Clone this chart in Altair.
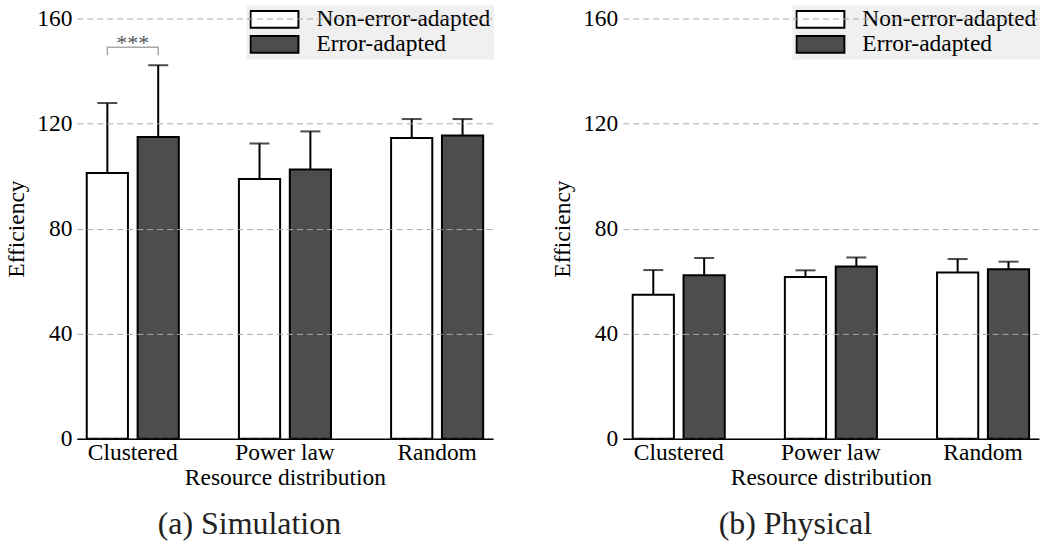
import altair as alt
import pandas as pd

categories = ["Clustered", "Power law", "Random"]
groups = ["Non-error-adapted", "Error-adapted"]

sim_non_mean = [101.2, 98.9, 114.5]
sim_non_sd = [26.6, 13.5, 7.2]
sim_err_mean = [114.9, 102.5, 115.4]
sim_err_sd = [27.3, 14.5, 6.3]

phys_non_mean = [54.8, 61.6, 63.3]
phys_non_sd = [9.4, 2.5, 5.1]
phys_err_mean = [62.2, 65.6, 64.5]
phys_err_sd = [6.6, 3.4, 2.9]

y_ticks = [0, 40, 80, 120, 160]

# significance bracket between the two Clustered bars (simulation)
sig_cat = "Clustered"
sig_label = "***"
sig_top = 149
sig_foot = 146
sig_text_y = 148

FONT = "Times New Roman, Liberation Serif, Times, serif"
FS = 23.5


def make_df(non_m, non_s, err_m, err_s):
    rows = []
    for i, c in enumerate(categories):
        rows.append({"cat": c, "grp": groups[0], "mean": non_m[i], "upper": non_m[i] + non_s[i]})
        rows.append({"cat": c, "grp": groups[1], "mean": err_m[i], "upper": err_m[i] + err_s[i]})
    return pd.DataFrame(rows)


def panel(df, caption, sig=False):
    base = alt.Chart(df)
    x = alt.X(
        "cat:N",
        sort=categories,
        scale=alt.Scale(paddingInner=0.395, paddingOuter=0.065),
        axis=alt.Axis(
            title="Resource distribution",
            labelAngle=0,
            ticks=False,
            grid=False,
            domainColor="black",
            domainWidth=1.5,
            labelFont=FONT,
            labelFontSize=FS,
            labelColor="black",
            labelPadding=2,
            titleFont=FONT,
            titleFontSize=FS,
            titleFontWeight="normal",
            titleColor="black",
            titlePadding=1,
            zindex=2,
        ),
    )
    xo = alt.XOffset("grp:N", sort=groups, scale=alt.Scale(domain=groups, paddingInner=0.19, paddingOuter=0))
    y = alt.Y(
        "mean:Q",
        scale=alt.Scale(domain=[0, 160], nice=False),
        axis=alt.Axis(
            values=y_ticks,
            title="Efficiency",
            grid=True,
            gridDash=[6, 4],
            gridColor="#aaaaaa",
            gridWidth=1,
            domain=False,
            ticks=False,
            labelFont=FONT,
            labelFontSize=FS,
            labelColor="black",
            labelPadding=5,
            titleFont=FONT,
            titleFontSize=FS,
            titleFontWeight="normal",
            titleColor="black",
            titlePadding=8,
            zindex=1,
        ),
    )
    bars = base.mark_bar(stroke="black", strokeWidth=2).encode(
        x=x,
        xOffset=xo,
        y=y,
        fill=alt.Fill(
            "grp:N",
            sort=groups,
            scale=alt.Scale(domain=groups, range=["white", "#4d4d4d"]),
            legend=alt.Legend(
                title=None,
                orient="none",
                legendX=170,
                legendY=-13,
                fillColor="#f0f0f0",
                padding=3,
                symbolType="M-1,-0.35L1,-0.35L1,0.35L-1,0.35Z",
                symbolSize=2304,
                symbolStrokeColor="black",
                symbolStrokeWidth=2,
                symbolOpacity=1,
                labelFont=FONT,
                labelFontSize=FS,
                labelColor="black",
                labelOffset=17,
                labelLimit=400,
                clipHeight=22,
                rowPadding=1,
            ),
        ),
    )
    rules = base.mark_rule(strokeWidth=2, color="black").encode(
        x=x, xOffset=xo, y="mean:Q", y2="upper:Q"
    )
    caps = base.mark_tick(size=20, thickness=2, color="black").encode(
        x=x, xOffset=xo, y="upper:Q"
    )
    layers = [bars, rules, caps]
    if sig:
        br = pd.DataFrame({
            "cat": [sig_cat] * 4,
            "grp": [groups[0], groups[0], groups[1], groups[1]],
            "v": [sig_foot, sig_top, sig_top, sig_foot],
            "o": [0, 1, 2, 3],
        })
        bracket = alt.Chart(br).mark_line(color="#aaaaaa", strokeWidth=1.5).encode(
            x=x, xOffset=xo, y="v:Q", order="o:Q"
        )
        st = pd.DataFrame({"cat": [sig_cat], "v": [sig_text_y], "t": [sig_label]})
        stars = alt.Chart(st).mark_text(font=FONT, fontSize=22, color="#555555", baseline="alphabetic").encode(
            x=x, y="v:Q", text="t:N"
        )
        layers += [bracket, stars]
    return alt.layer(*layers).properties(
        width=417,
        height=421,
        title=alt.TitleParams(
            caption,
            orient="bottom",
            anchor="middle",
            frame="bounds",
            font=FONT,
            fontSize=32,
            fontWeight="normal",
            color="#222222",
            offset=21,
        ),
    )


sim = panel(make_df(sim_non_mean, sim_non_sd, sim_err_mean, sim_err_sd), "(a) Simulation", sig=True)
phys = panel(make_df(phys_non_mean, phys_non_sd, phys_err_mean, phys_err_sd), "(b) Physical")

chart = (
    alt.hconcat(sim, phys, spacing=56)
    .resolve_scale(fill="independent")
    .configure(font=FONT, padding={"left": 4, "top": 5, "right": 0, "bottom": 0})
    .configure_view(stroke=None)
)

chart.save("out.html", embed_options={"renderer": "svg", "actions": False})
